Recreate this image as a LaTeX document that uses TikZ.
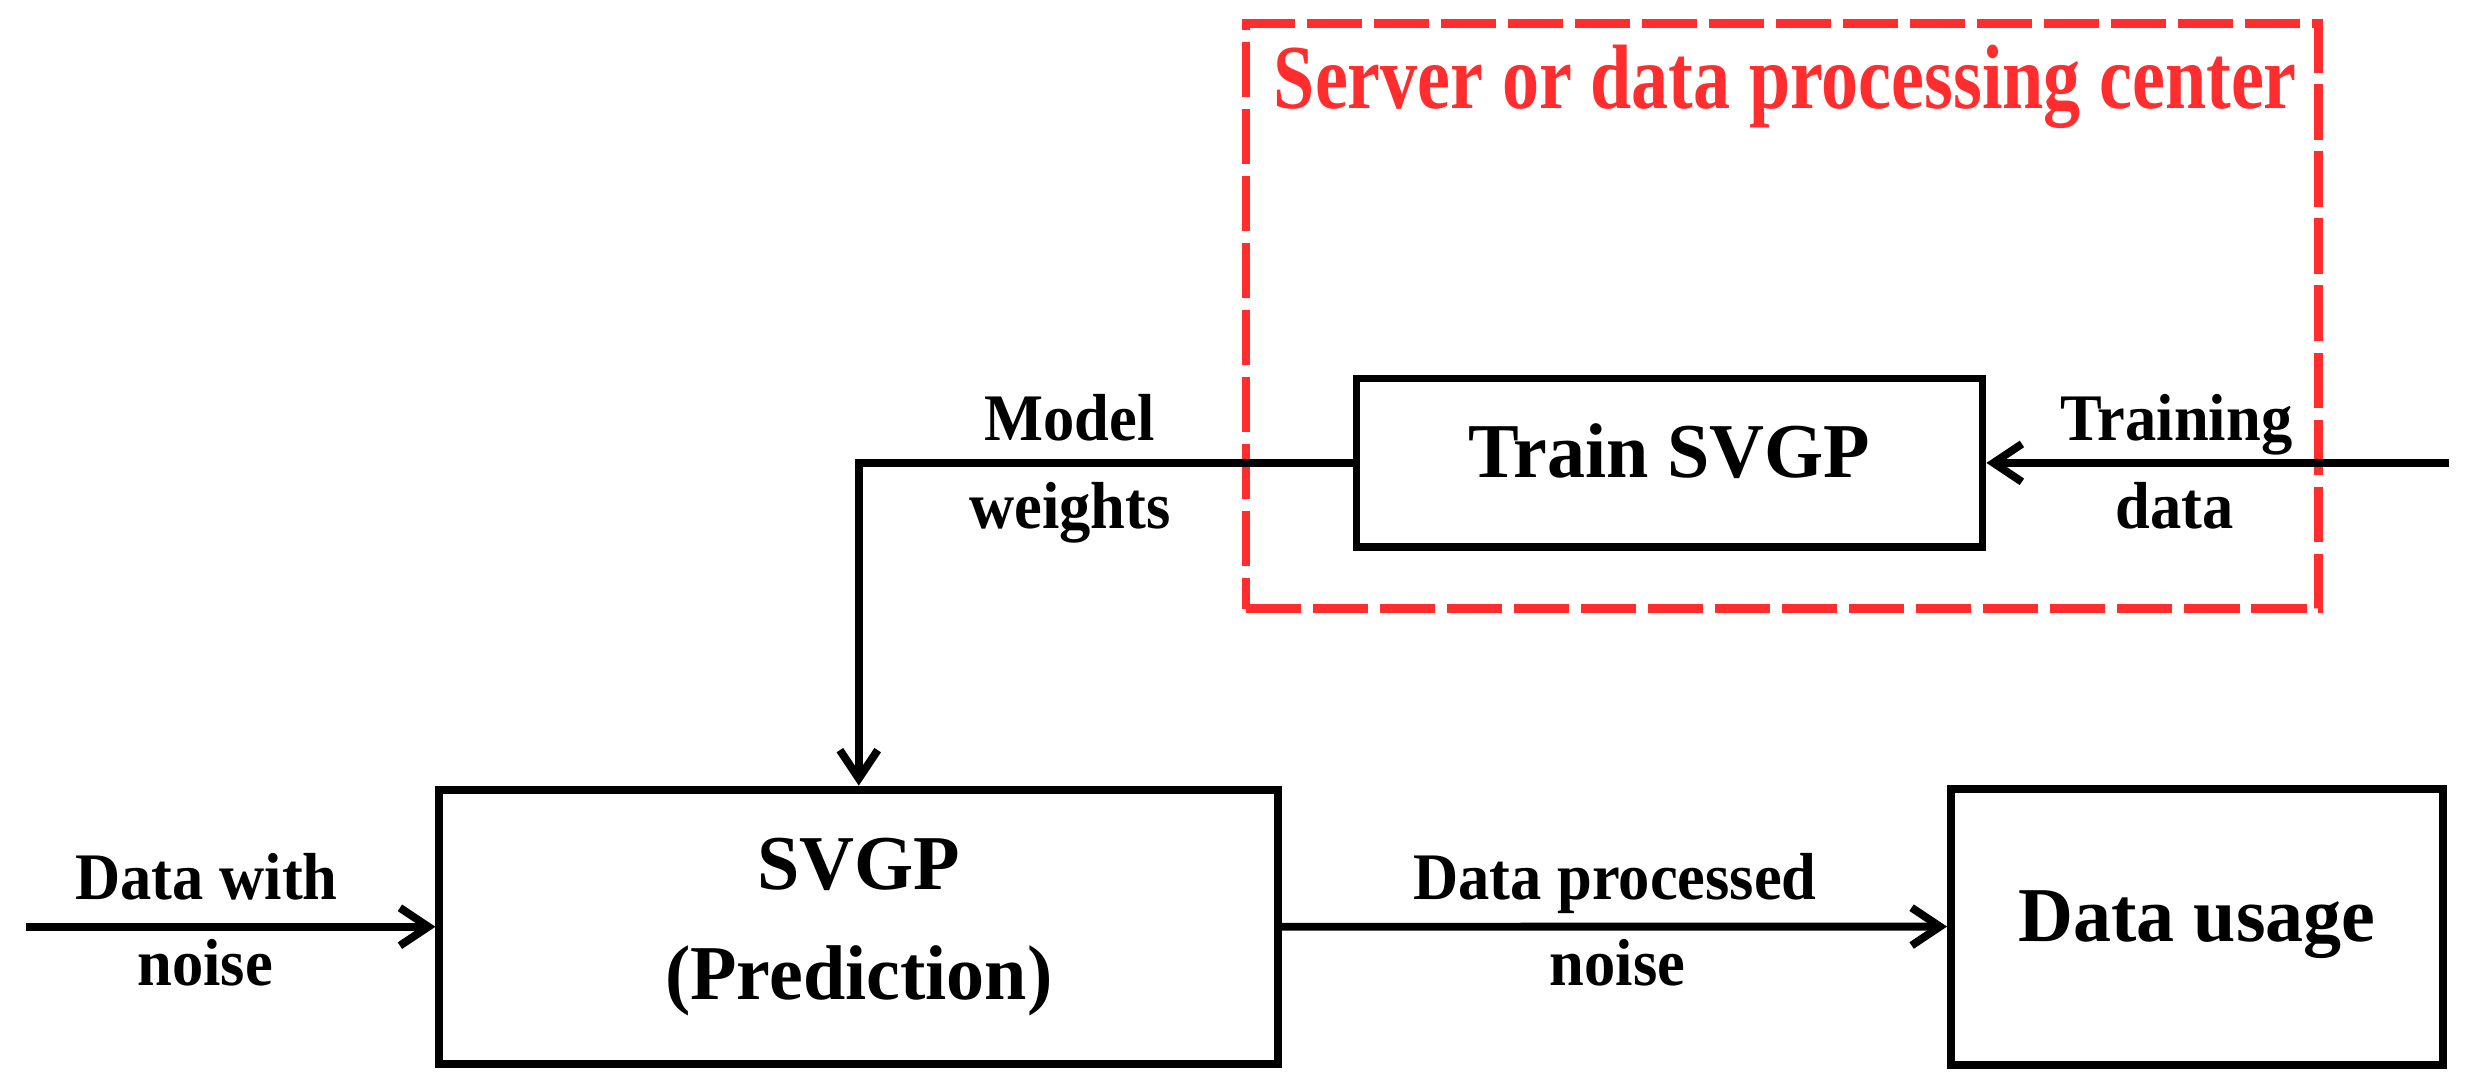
\documentclass[tikz,border=0pt]{standalone}
\usepackage{fontspec}
\setmainfont{Liberation Serif}
\newfontfamily\boxfont{Liberation Serif}[FakeStretch=0.98]
\newfontfamily\labfont{Liberation Serif}[FakeStretch=0.94]
\newfontfamily\titfont{Liberation Serif}[FakeStretch=0.81]
\usetikzlibrary{arrows.meta}
\definecolor{srvred}{RGB}{255,45,45}
\begin{document}
\begin{tikzpicture}[x=0.02cm,y=-0.02cm,
  box/.style={draw, line width=0.1cm, inner sep=0pt,
    font=\boxfont\bfseries\fontsize{28pt}{39.8pt}\selectfont},
  onebox/.style={box, text height=21pt, text depth=10.4pt},
  lab/.style={font=\labfont\bfseries\fontsize{24pt}{28pt}\selectfont,
    anchor=base, inner sep=0pt},
  arr/.style={line width=0.1cm, -{Straight Barb[length=0.36cm,width=0.48cm]}},
  server/.style={draw=srvred, dash pattern=on 0.7cm off 0.15cm,
    line width=0.11cm, inner sep=0pt},
  title/.style={font=\titfont\bfseries\fontsize{33pt}{38pt}\selectfont,
    text=srvred, anchor=base, inner sep=0pt},
]
\useasboundingbox (0,0) rectangle (1568,692);

% server region
\node[server, minimum width=13.6cm, minimum height=7.42cm] (server) at (1130,200.5) {};
\node[title] (title) at (1132,68.7) {Server or data processing center};

% blocks
\node[onebox, minimum width=7.94cm, minimum height=2.14cm] (train) at (1058.5,293.5) {Train SVGP};
\node[box, align=center, minimum width=10.64cm, minimum height=3.48cm] (svgp) at (544.5,587.6) {SVGP\\(Prediction)};
\node[onebox, minimum width=6.24cm, minimum height=3.5cm] (usage) at (1393,587.5) {Data usage};

% free ends
\coordinate (tin) at (1552.5,293.5);
\coordinate (din) at (16.4,587.6);

% connectors
\draw[arr] (tin) -- (train.east);
\draw[arr] (train.west) -| (svgp.north);
\draw[arr] (din) -- (svgp.west);
\draw[arr] (svgp.east) -- (usage.west);

% labels
\node[lab] (lmodel) at (678,279) {Model};
\node[lab] (lweights) at (678.5,335) {weights};
\node[lab] (ltrain) at (1380,279) {Training};
\node[lab] (ldata) at (1379,335) {data};
\node[lab] (ldw) at (131,570.5) {Data with};
\node[lab] (lnoise1) at (130,625) {noise};
\node[lab] (ldp) at (1024,570.5) {Data processed};
\node[lab] (lnoise2) at (1025.5,625) {noise};
\end{tikzpicture}
\end{document}
